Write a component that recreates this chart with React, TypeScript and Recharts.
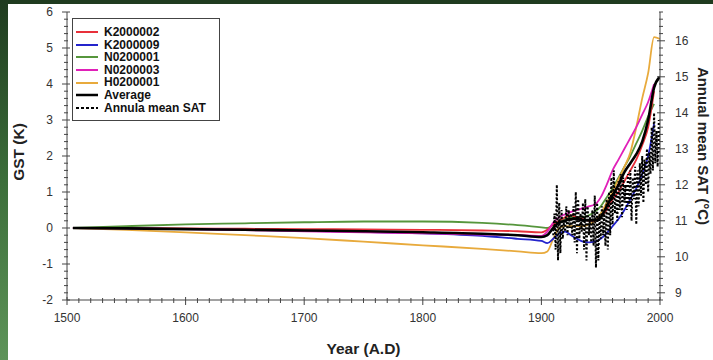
import React from 'react';
import { LineChart, Line, XAxis, YAxis, Legend, Label } from 'recharts';

// model curves share one set of years
const modelYears = [1505, 1550, 1600, 1650, 1700, 1750, 1800, 1850, 1880, 1900, 1905, 1910, 1915, 1920, 1925, 1930, 1935, 1940, 1945, 1950, 1955, 1960, 1965, 1970, 1975, 1980, 1985, 1990, 1995, 2000];

const k2000002 = [0, 0, -0.01, -0.02, -0.03, -0.04, -0.05, -0.07, -0.09, -0.12, -0.05, 0.1, 0.2, 0.3, 0.35, 0.3, 0.25, 0.2, 0.2, 0.3, 0.5, 0.8, 1.0, 1.3, 1.6, 1.9, 2.3, 2.8, 3.8, null];
const k2000009 = [0, -0.01, -0.03, -0.05, -0.08, -0.11, -0.15, -0.22, -0.3, -0.36, -0.42, -0.3, -0.15, -0.1, -0.2, -0.3, -0.38, -0.4, -0.38, -0.3, -0.15, 0.05, 0.25, 0.5, 0.8, 1.1, 1.5, 2.0, 2.9, null];
const n0200001 = [0, 0.05, 0.1, 0.13, 0.16, 0.18, 0.18, 0.14, 0.08, 0.02, 0.0, 0.1, 0.2, 0.25, 0.3, 0.3, 0.3, 0.35, 0.45, 0.6, 0.85, 1.1, 1.4, 1.7, 2.0, 2.35, 2.7, 3.1, 3.45, null];
const n0200003 = [0, -0.01, -0.03, -0.06, -0.09, -0.12, -0.15, -0.18, -0.2, -0.22, -0.1, 0.15, 0.3, 0.38, 0.45, 0.5, 0.55, 0.6, 0.65, 0.85, 1.2, 1.6, 1.9, 2.2, 2.5, 2.8, 3.15, 3.5, 4.0, null];
const h0200001 = [0, -0.05, -0.12, -0.2, -0.28, -0.38, -0.48, -0.58, -0.65, -0.7, -0.65, -0.3, 0.0, 0.05, 0.05, 0.05, 0.05, 0.1, 0.2, 0.4, 0.7, 1.0, 1.35, 1.7, 2.1, 2.8, 3.6, 4.3, 5.3, 5.25];
const average = [0, -0.01, -0.03, -0.05, -0.07, -0.09, -0.12, -0.16, -0.2, -0.25, -0.2, 0.0, 0.15, 0.2, 0.25, 0.25, 0.22, 0.22, 0.22, 0.3, 0.6, 0.9, 1.2, 1.55, 1.8, 2.05, 2.4, 3.0, 3.9, 4.2];

// annual mean SAT (degC), 1910..2000
const satStartYear = 1910;
const annualSat = [
  10.6, 11.2, 10.2, 12.0, 9.9, 11.5, 10.1, 11.3, 10.5, 11.0,
  10.7, 11.4, 10.6, 11.3, 10.8, 11.2, 10.6, 11.4, 10.4, 11.8,
  10.1, 11.6, 10.5, 11.2, 10.7, 11.5, 10.2, 11.6, 9.9, 11.4,
  10.6, 11.1, 10.4, 11.3, 10.3, 11.7, 9.7, 11.5, 9.9, 11.2,
  10.5, 11.4, 10.6, 11.2, 10.3, 11.6, 10.2, 11.8, 10.6, 12.2,
  10.9, 12.4, 11.2, 11.9, 11.0, 12.1, 11.3, 12.3, 11.1, 12.2,
  11.5, 12.0, 11.3, 12.3, 11.4, 12.4, 11.0, 12.2, 11.6, 12.5,
  10.9, 12.4, 11.4, 12.6, 11.7, 12.8, 11.5, 12.7, 12.0, 13.0,
  11.8, 12.9, 12.3, 13.6, 12.4, 14.0, 12.6, 13.5, 12.5, 13.8,
  12.9,
];

const yearLabels = [1500, 1600, 1700, 1800, 1900, 2000];
const gstLabels = [-2, -1, 0, 1, 2, 3, 4, 5, 6];
const satLabels = [9, 10, 11, 12, 13, 14, 15, 16];

const RED = '#e8303a';
const BLUE = '#2424cc';
const GREEN = '#56963c';
const MAGENTA = '#e020b8';
const ORANGE = '#e8aa3c';
const AXIS = '#444';
const FONT = '"Liberation Sans", Arial, sans-serif';

const toPoints = (vals: (number | null)[]) =>
  modelYears.map((year, i) => ({ year, v: vals[i] })).filter((p) => p.v !== null);

const satPoints = annualSat.map((v, i) => ({ year: satStartYear + i, v }));

const steps = (from: number, to: number, step: number) => {
  const out: number[] = [];
  for (let v = from; v <= to + 1e-9; v += step) out.push(Math.round(v * 10) / 10);
  return out;
};

const xTicks = steps(1500, 2000, 10);
const gstTicks = steps(-2, 6, 0.2);
const satTicks = steps(8.8, 16.8, 0.2);

const tickText = { fontFamily: FONT, fontSize: 12, fill: '#333' };

const BottomTick = (props: any) => {
  const { x, y, payload } = props;
  const major = yearLabels.includes(payload.value);
  return (
    <g>
      <line x1={x} x2={x} y1={y - (major ? 3 : 2)} y2={y + (major ? 5 : 3)} stroke={AXIS} />
      {major && (
        <text x={x} y={y + 18} textAnchor="middle" dominantBaseline="central" {...tickText}>
          {payload.value}
        </text>
      )}
    </g>
  );
};

const TopTick = (props: any) => {
  const { x, y, payload } = props;
  const major = yearLabels.includes(payload.value);
  return <line x1={x} x2={x} y1={y - 2} y2={y + (major ? 5 : 3)} stroke={AXIS} />;
};

const LeftTick = (props: any) => {
  const { x, y, payload } = props;
  const major = gstLabels.includes(payload.value);
  return (
    <g>
      <line x1={x - (major ? 5 : 3)} x2={x + (major ? 3 : 1)} y1={y} y2={y} stroke={AXIS} />
      {major && (
        <text x={x - 14} y={y} textAnchor="end" dominantBaseline="central" {...tickText}>
          {payload.value}
        </text>
      )}
    </g>
  );
};

const RightTick = (props: any) => {
  const { x, y, payload } = props;
  const major = satLabels.includes(payload.value);
  return (
    <g>
      <line x1={x - (major ? 3 : 1)} x2={x + (major ? 5 : 3)} y1={y} y2={y} stroke={AXIS} />
      {major && (
        <text x={x + 15} y={y} textAnchor="start" dominantBaseline="central" {...tickText}>
          {payload.value}
        </text>
      )}
    </g>
  );
};

const titleStyle = { fontFamily: FONT, fontSize: 15.5, fontWeight: 700, fill: '#222' };

const legendItems = [
  { name: 'K2000002', color: RED },
  { name: 'K2000009', color: BLUE },
  { name: 'N0200001', color: GREEN },
  { name: 'N0200003', color: MAGENTA },
  { name: 'H0200001', color: ORANGE },
  { name: 'Average', color: '#000', width: 2.5 },
  { name: 'Annula mean SAT', color: '#000', dashed: true },
];

const LegendBox = () => (
  <div
    style={{
      border: `1px solid ${AXIS}`,
      background: '#fff',
      padding: '7px 0 6px 0',
      width: 146,
      fontFamily: FONT,
      fontSize: 12,
      fontWeight: 700,
      color: '#111',
    }}
  >
    {legendItems.map((it) => (
      <div key={it.name} style={{ display: 'flex', alignItems: 'center', height: 12.6, lineHeight: '12.6px' }}>
        <svg width={22} height={4} style={{ marginLeft: 3, marginRight: 6 }}>
          <line
            x1={0}
            x2={22}
            y1={2}
            y2={2}
            stroke={it.color}
            strokeWidth={it.width ?? 2}
            strokeDasharray={it.dashed ? '3 2' : undefined}
          />
        </svg>
        <span>{it.name}</span>
      </div>
    ))}
  </div>
);

export default function App() {
  return (
    <div style={{ position: 'fixed', left: 0, top: 0, width: 713, height: 360, background: '#fff', overflow: 'hidden' }}>
      <div style={{ position: 'absolute', left: 0, top: 0, width: 713, height: 4, background: '#1f3b1f' }} />
      <div
        style={{
          position: 'absolute',
          left: 0,
          top: 0,
          width: 8,
          height: 360,
          background: 'linear-gradient(#1f3b1f, #3c6e3a 50%, #5e9459)',
        }}
      />
      <div style={{ position: 'absolute', left: 0, top: 0 }}>
        <LineChart width={713} height={360} margin={{ top: 12, right: 0, bottom: 0, left: 0 }}>
          <XAxis
            dataKey="year"
            type="number"
            domain={[1500, 2000]}
            ticks={xTicks}
            interval={0}
            height={60}
            tickSize={0}
            tickMargin={0}
            tickLine={false}
            tick={<BottomTick />}
            stroke={AXIS}
            allowDataOverflow
          >
            <Label
              content={(p: any) => (
                <text
                  x={p.viewBox.x + p.viewBox.width / 2}
                  y={p.viewBox.y + 48}
                  textAnchor="middle"
                  dominantBaseline="central"
                  {...titleStyle}
                >
                  Year (A.D)
                </text>
              )}
            />
          </XAxis>
          <XAxis
            xAxisId="top"
            orientation="top"
            dataKey="year"
            type="number"
            domain={[1500, 2000]}
            ticks={xTicks}
            interval={0}
            height={0}
            tickSize={0}
            tickMargin={0}
            tickLine={false}
            tick={<TopTick />}
            stroke={AXIS}
            allowDataOverflow
          />
          <YAxis
            yAxisId="gst"
            type="number"
            domain={[-2, 6]}
            ticks={gstTicks}
            interval={0}
            width={67}
            tickSize={0}
            tickMargin={0}
            tickLine={false}
            tick={<LeftTick />}
            stroke={AXIS}
            allowDataOverflow
          >
            <Label
              content={() => (
                <text
                  x={18.5}
                  y={152}
                  transform="rotate(-90, 18.5, 152)"
                  textAnchor="middle"
                  dominantBaseline="central"
                  {...titleStyle}
                >
                  GST (K)
                </text>
              )}
            />
          </YAxis>
          <YAxis
            yAxisId="sat"
            orientation="right"
            type="number"
            domain={[8.8, 16.8]}
            ticks={satTicks}
            interval={0}
            width={53}
            tickSize={0}
            tickMargin={0}
            tickLine={false}
            tick={<RightTick />}
            stroke={AXIS}
            allowDataOverflow
          >
            <Label
              content={() => (
                <text
                  x={703}
                  y={146}
                  transform="rotate(90, 703, 146)"
                  textAnchor="middle"
                  dominantBaseline="central"
                  {...titleStyle}
                  fontSize={15}
                >
                  Annual mean SAT (°C)
                </text>
              )}
            />
          </YAxis>
          <Legend
            layout="vertical"
            align="center"
            verticalAlign="middle"
            content={<LegendBox />}
            wrapperStyle={{ left: 72, top: 18, width: 148, height: 'auto' }}
          />
          <Line yAxisId="gst" data={toPoints(n0200001)} dataKey="v" type="monotone" stroke={GREEN} strokeWidth={1.8} dot={false} isAnimationActive={false} />
          <Line yAxisId="gst" data={toPoints(h0200001)} dataKey="v" type="monotone" stroke={ORANGE} strokeWidth={1.8} dot={false} isAnimationActive={false} />
          <Line yAxisId="gst" data={toPoints(k2000002)} dataKey="v" type="monotone" stroke={RED} strokeWidth={1.8} dot={false} isAnimationActive={false} />
          <Line yAxisId="gst" data={toPoints(k2000009)} dataKey="v" type="monotone" stroke={BLUE} strokeWidth={1.8} dot={false} isAnimationActive={false} />
          <Line yAxisId="gst" data={toPoints(n0200003)} dataKey="v" type="monotone" stroke={MAGENTA} strokeWidth={1.8} dot={false} isAnimationActive={false} />
          <Line yAxisId="sat" data={satPoints} dataKey="v" type="linear" stroke="#000" strokeWidth={2} strokeDasharray="2 2" dot={false} isAnimationActive={false} />
          <Line yAxisId="gst" data={toPoints(average)} dataKey="v" type="monotone" stroke="#000" strokeWidth={2.6} dot={false} isAnimationActive={false} />
        </LineChart>
      </div>
    </div>
  );
}
